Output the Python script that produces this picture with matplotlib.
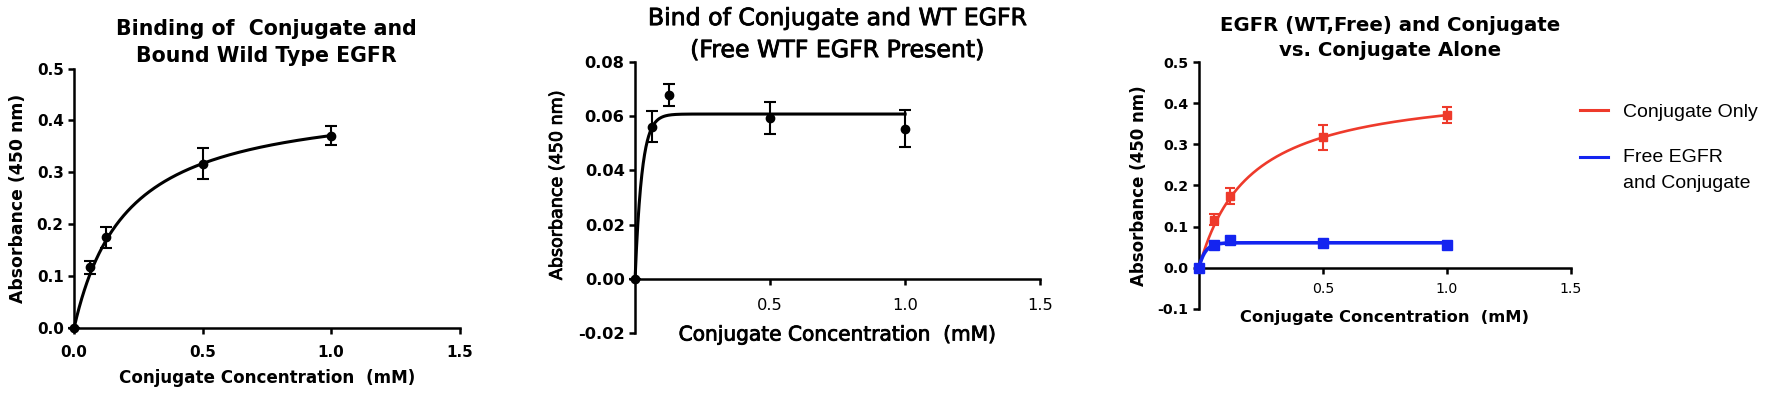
import numpy as np
import matplotlib.pyplot as plt
import matplotlib.transforms as mtransforms
import matplotlib.patheffects as pe
from matplotlib.lines import Line2D
from matplotlib.legend_handler import HandlerLine2D
from matplotlib.ticker import FormatStrFormatter

plt.rcParams['font.family'] = ['DejaVu Sans']

# conjugate concentration (mM)
conc = [0.0, 0.0625, 0.125, 0.5, 1.0]

# conjugate alone / bound wild type EGFR
abs_conj = [0.0, 0.117, 0.175, 0.317, 0.371]
err_conj = [0.0, 0.013, 0.020, 0.030, 0.019]
# one-site binding fit (Bmax, Kd)
bmax_conj, kd_conj = 0.447, 0.205

# conjugate + free WT EGFR present
abs_free = [0.0, 0.0561, 0.0677, 0.0593, 0.0554]
err_free = [0.0, 0.0057, 0.0040, 0.0058, 0.0068]
# one-phase association fit (plateau, rate)
plateau_free, k_free = 0.0608, 40.0

RED = '#ee3a2b'
BLUE = '#1424f0'

# medium-weight look for the middle panel's text
MEDIUM = [pe.withStroke(linewidth=0.6, foreground='black')]


def hyperbola(bmax, kd):
    x = np.linspace(0, max(conc), 400)
    return x, bmax * x / (kd + x)


def association(ymax, k):
    x = np.linspace(0, max(conc), 400)
    return x, ymax * (1 - np.exp(-k * x))


def style_axes(ax, xticks, yticks, yfmt, tick_size, xpad):
    ax.spines['top'].set_visible(False)
    ax.spines['right'].set_visible(False)
    for s in ['left', 'bottom']:
        ax.spines[s].set_linewidth(1.8)
    ax.set_xlim(0, 1.5)
    ax.set_xticks(xticks)
    ax.set_yticks(yticks)
    ax.set_ylim(yticks[0], yticks[-1])
    ax.xaxis.set_major_formatter(FormatStrFormatter('%.1f'))
    ax.yaxis.set_major_formatter(FormatStrFormatter(yfmt))
    ax.tick_params(width=1.8, length=4.5, labelsize=tick_size, pad=3)
    ax.tick_params(axis='x', pad=xpad)
    for lab in ax.get_xticklabels() + ax.get_yticklabels():
        lab.set_fontweight('bold')


def no_clip(container):
    for art in container.get_children():
        art.set_clip_on(False)


class FirstLineHandler(HandlerLine2D):
    # keep the handle level with the first line of a two-line label
    def __init__(self, lift, **kw):
        super().__init__(**kw)
        self.lift = lift

    def create_artists(self, legend, orig_handle, xdescent, ydescent,
                       width, height, fontsize, trans):
        arts = super().create_artists(legend, orig_handle, xdescent, ydescent,
                                      width, height, fontsize, trans)
        shift = mtransforms.Affine2D().translate(0, self.lift)
        for a in arts:
            a.set_transform(shift + trans)
        return arts


fig = plt.figure(figsize=(17.72, 3.99), dpi=100)

# --- panel 1 ---
ax1 = fig.add_axes([0.0418, 0.178, 0.2176, 0.650])
xs, ys = hyperbola(bmax_conj, kd_conj)
ax1.plot(xs, ys, color='black', lw=2.2, clip_on=False)
eb = ax1.errorbar(conc, abs_conj, yerr=err_conj, fmt='o', color='black', ms=6,
                  capsize=4.3, elinewidth=1.5, capthick=1.5)
no_clip(eb)
style_axes(ax1, [0, 0.5, 1.0, 1.5], [0, 0.1, 0.2, 0.3, 0.4, 0.5], '%.1f', 11, 8)
ax1.text(0.5, 1.102, 'Binding of  Conjugate and\nBound Wild Type EGFR', transform=ax1.transAxes,
         ha='center', va='center', fontsize=14.8, fontweight='bold', linespacing=1.45)
ax1.set_xlabel('Conjugate Concentration  (mM)', fontsize=12.1, fontweight='bold', va='center')
ax1.xaxis.set_label_coords(0.5, -0.193)
ax1.set_ylabel('Absorbance (450 nm)', fontsize=12.4, fontweight='bold', va='center')
ax1.yaxis.set_label_coords(-0.145, 0.498)

# --- panel 2 ---
ax2 = fig.add_axes([0.3584, 0.1654, 0.2286, 0.6792])
xs, ys = association(plateau_free, k_free)
ax2.plot(xs, ys, color='black', lw=2.2, clip_on=False)
eb = ax2.errorbar(conc, abs_free, yerr=err_free, fmt='o', color='black', ms=6,
                  capsize=4.3, elinewidth=1.5, capthick=1.5)
no_clip(eb)
style_axes(ax2, [0.5, 1.0, 1.5], [-0.02, 0, 0.02, 0.04, 0.06, 0.08], '%.2f', 11.7, 9)
ax2.spines['bottom'].set_position(('data', 0))
ax2.text(0.5, 1.103, 'Bind of Conjugate and WT EGFR\n(Free WTF EGFR Present)', transform=ax2.transAxes,
         ha='center', va='center', fontsize=17, linespacing=1.42, path_effects=MEDIUM)
ax2.set_xlabel('Conjugate Concentration  (mM)', fontsize=14.5, va='center', path_effects=MEDIUM)
ax2.xaxis.set_label_coords(0.5, -0.0074)
ax2.set_ylabel('Absorbance (450 nm)', fontsize=12.6, va='center', path_effects=MEDIUM)
ax2.yaxis.set_label_coords(-0.193, 0.546)

# --- panel 3 ---
ax3 = fig.add_axes([0.6766, 0.2256, 0.2099, 0.619])
xs, ys = hyperbola(bmax_conj, kd_conj)
ax3.plot(xs, ys, color=RED, lw=1.9, clip_on=False)
eb = ax3.errorbar(conc, abs_conj, yerr=err_conj, fmt='s', color=RED, ms=6,
                  capsize=3.6, elinewidth=1.5, capthick=1.5)
no_clip(eb)
xs, ys = association(plateau_free, k_free)
ax3.plot(xs, ys, color=BLUE, lw=2.6, clip_on=False, zorder=3)
eb = ax3.errorbar(conc, abs_free, yerr=err_free, fmt='s', color=BLUE, ms=6.5,
                  capsize=3.6, elinewidth=1.5, capthick=1.5, zorder=3)
no_clip(eb)
style_axes(ax3, [0.5, 1.0, 1.5], [-0.1, 0, 0.1, 0.2, 0.3, 0.4, 0.5], '%.1f', 10.2, 6)
ax3.spines['bottom'].set_position(('data', 0))
ax3.text(0.513, 1.097, 'EGFR (WT,Free) and Conjugate\nvs. Conjugate Alone', transform=ax3.transAxes,
         ha='center', va='center', fontsize=14.2, fontweight='bold', linespacing=1.42)
ax3.set_xlabel('Conjugate Concentration  (mM)', fontsize=11.7, fontweight='bold', va='center')
ax3.xaxis.set_label_coords(0.5, -0.036)
ax3.set_ylabel('Absorbance (450 nm)', fontsize=12, fontweight='bold', va='center')
ax3.yaxis.set_label_coords(-0.161, 0.498)

h_red = Line2D([], [], color=RED, lw=2.2)
h_blue = Line2D([], [], color=BLUE, lw=2.2)
leg = ax3.legend([h_red, h_blue], ['Conjugate Only', 'Free EGFR\nand Conjugate'],
                 loc='upper left', bbox_to_anchor=(1580 / 1772, 1 - 103 / 399),
                 bbox_transform=fig.transFigure, frameon=False,
                 prop={'family': 'Liberation Sans', 'size': 14},
                 handlelength=1.45, handletextpad=0.75, borderpad=0, borderaxespad=0,
                 labelspacing=1.45, handler_map={h_blue: FirstLineHandler(9.4)})
for t in leg.get_texts():
    t.set_linespacing(1.7)

fig.savefig('out.png', dpi=100)
